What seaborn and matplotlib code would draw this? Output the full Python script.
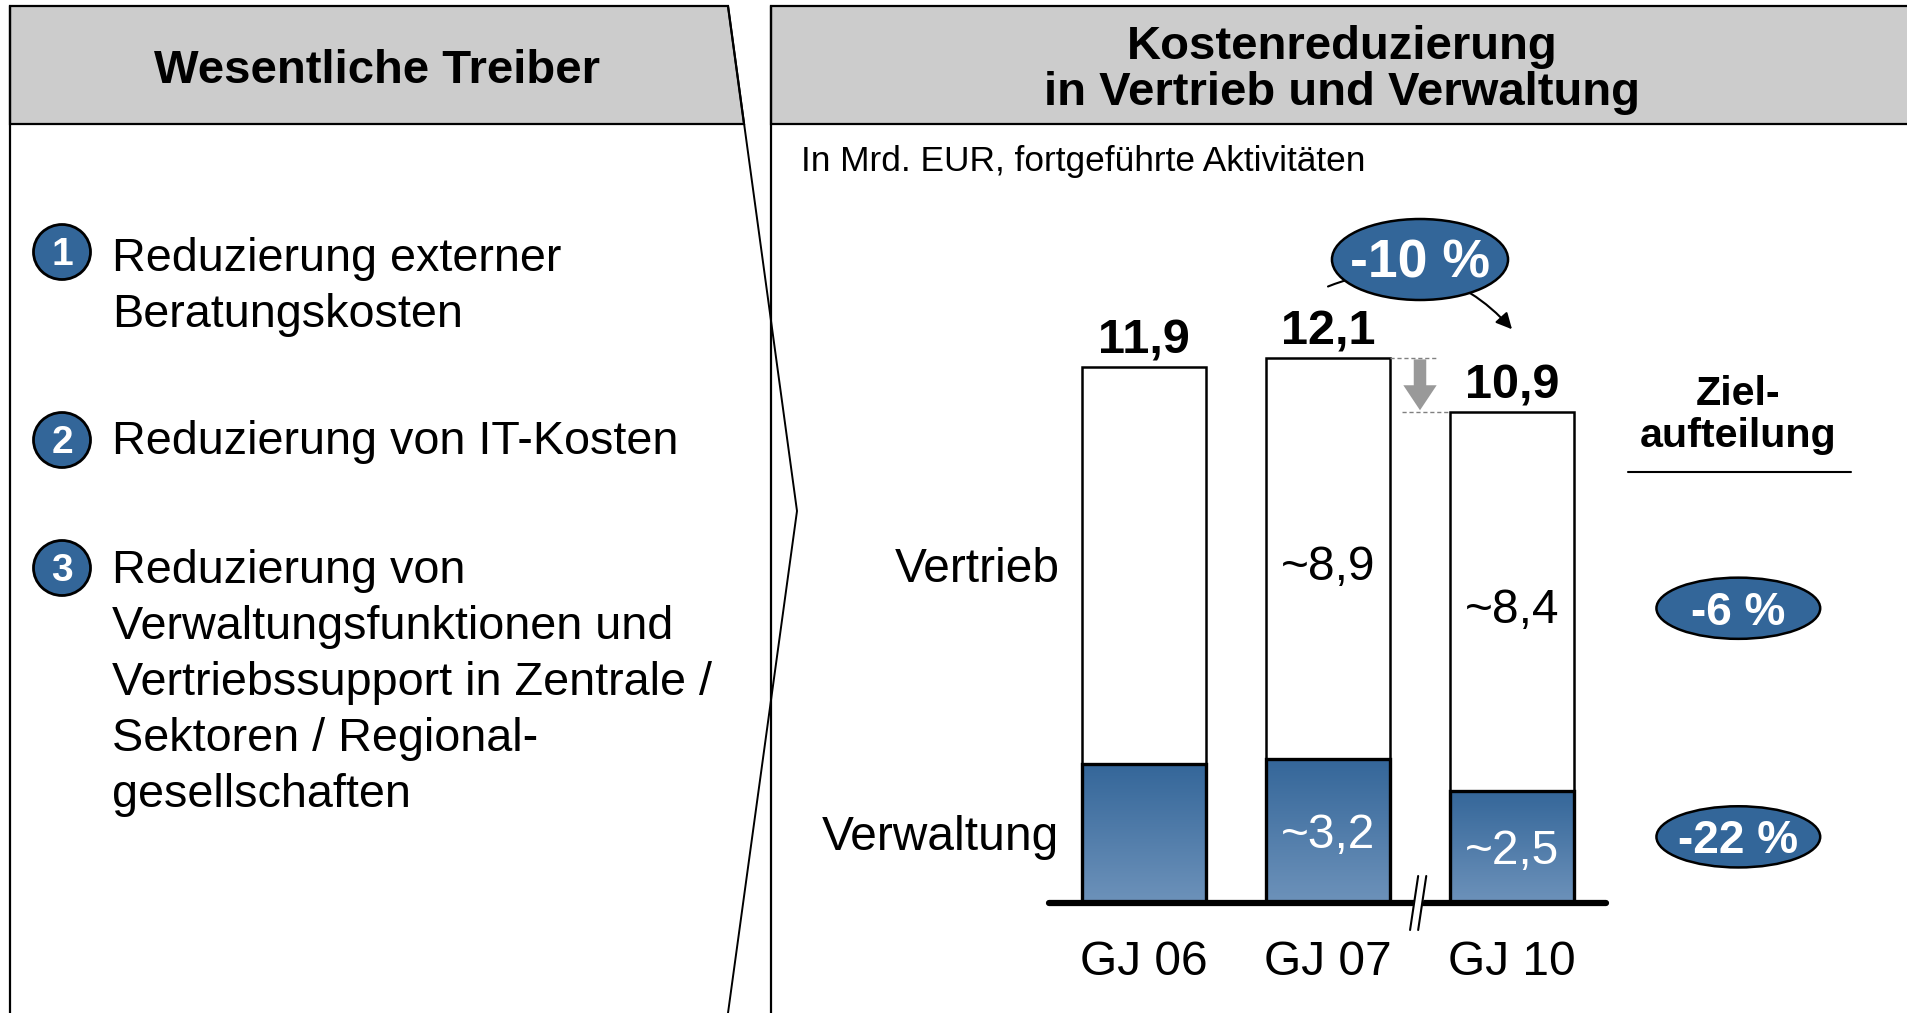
import numpy as np
import matplotlib.pyplot as plt
import matplotlib.patches as mpatches
from matplotlib.colors import LinearSegmentedColormap
import seaborn as sns

sns.set_theme(style='white')
plt.rcParams['font.family'] = ['Liberation Sans', 'DejaVu Sans']
plt.rcParams['text.color'] = 'black'

# Daten
jahre = ['GJ 06', 'GJ 07', 'GJ 10']
verwaltung = [3.1, 3.2, 2.5]
vertrieb = [8.8, 8.9, 8.4]
gesamt = [11.9, 12.1, 10.9]
gesamt_labels = ['11,9', '12,1', '10,9']
vertrieb_labels = ['', '~8,9', '~8,4']
verwaltung_labels = ['', '~3,2', '~2,5']
zeilen = ['Vertrieb', 'Verwaltung']
ziel_labels = ['-6 %', '-22 %']
reduktion_label = '-10 %'
treiber = [
    ['Reduzierung externer', 'Beratungskosten'],
    ['Reduzierung von IT-Kosten'],
    ['Reduzierung von', 'Verwaltungsfunktionen und', 'Vertriebssupport in Zentrale /',
     'Sektoren / Regional-', 'gesellschaften'],
]

BLAU = '#336699'
GRAU = '#cccccc'
FS = 34.5
DY = -0.1  # kleine Korrektur für vertikale Textmitte

fig = plt.figure(figsize=(19.08, 10.13), dpi=100)

# Hintergrund / Rahmen (Pixelkoordinaten)
bg = fig.add_axes([0, 0, 1, 1])
bg.set_xlim(0, 1908)
bg.set_ylim(1013, 0)
bg.axis('off')

bg.add_patch(mpatches.Polygon([(10, 6), (728, 6), (744, 124), (10, 124)], closed=True,
                              facecolor=GRAU, edgecolor='black', lw=1.6))
bg.plot([10, 10], [6, 1013], color='black', lw=1.6)
bg.plot([728, 797, 728], [6, 511, 1013], color='black', lw=1.4)
bg.add_patch(mpatches.Rectangle((771, 6), 1150, 118, facecolor=GRAU, edgecolor='black', lw=1.6))
bg.plot([771, 771], [6, 1013], color='black', lw=1.6)

bg.text(377, 71, 'Wesentliche Treiber', ha='center', va='center', fontsize=34, fontweight='bold')
bg.text(1342, 47, 'Kostenreduzierung', ha='center', va='center', fontsize=34, fontweight='bold')
bg.text(1342, 93, 'in Vertrieb und Verwaltung', ha='center', va='center', fontsize=34,
        fontweight='bold')
bg.text(801, 161, 'In Mrd. EUR, fortgeführte Aktivitäten', ha='left', va='center', fontsize=25.4)

# Treiber-Liste
kreis_y = [252, 440, 568]
text_y = [259, 442, 571]
for i, zeilen_txt in enumerate(treiber):
    bg.add_patch(mpatches.Ellipse((62, kreis_y[i]), 57, 55, facecolor=BLAU, edgecolor='black', lw=2))
    bg.text(62, kreis_y[i] + 3, str(i + 1), ha='center', va='center', color='white',
            fontsize=28, fontweight='bold')
    for j, z in enumerate(zeilen_txt):
        bg.text(112, text_y[i] + j * 56, z, ha='left', va='center', fontsize=33.7)

# Balkendiagramm
ax = fig.add_axes([1052 / 1908, 110 / 1013, 552 / 1908, 585 / 1013])
ax.patch.set_alpha(0)

sns.barplot(x=jahre, y=gesamt, color='white', edgecolor='black', linewidth=1.8,
            width=0.67, saturation=1, ax=ax)
sns.barplot(x=jahre, y=verwaltung, color=BLAU, edgecolor='black', linewidth=2.4,
            width=0.67, saturation=1, ax=ax)

# Verlauf in den Verwaltungsbalken
cmap = LinearSegmentedColormap.from_list('verlauf', ['#6d92ba', '#346699'])
grad = np.linspace(0, 1, 256).reshape(-1, 1)
for p in ax.patches[len(jahre):]:
    x0, w, h = p.get_x(), p.get_width(), p.get_height()
    p.set_facecolor('none')
    p.set_zorder(3)
    im = ax.imshow(grad, extent=[x0, x0 + w, 0, h], origin='lower', cmap=cmap,
                   aspect='auto', zorder=2)
    im.set_clip_path(p)

ax.set_xlim(-0.5, 2.5)
ax.set_ylim(0, 13)
ax.set_xlabel('')
ax.set_ylabel('')
ax.set_yticks([])
ax.set_xticks([])
for s in ax.spines.values():
    s.set_visible(False)

# Grundlinie mit Achsenbruch
ax.plot([-0.515, 2.51], [0, 0], color='black', lw=4.5, solid_capstyle='round',
        clip_on=False, zorder=5)
bx = 1.49
ax.add_patch(mpatches.Polygon([(bx - 0.045, -0.35), (bx + 0.005, -0.35), (bx + 0.045, 0.35),
                               (bx - 0.005, 0.35)],
                              closed=True, facecolor='white', edgecolor='none', zorder=6, clip_on=False))
for dx in (-0.022, 0.022):
    ax.plot([bx + dx - 0.022, bx + dx + 0.022], [-0.6, 0.6], color='black', lw=1.5,
            clip_on=False, zorder=7)

for i, jahr in enumerate(jahre):
    ax.text(i, -1.22 + DY, jahr, ha='center', va='center', fontsize=FS, clip_on=False)
    ax.text(i, gesamt[i] + 0.68 + DY, gesamt_labels[i], ha='center', va='center',
            fontsize=35, fontweight='bold', clip_on=False)
    if vertrieb_labels[i]:
        ax.text(i, verwaltung[i] + vertrieb[i] / 2 - 0.2, vertrieb_labels[i], ha='center',
                va='center', fontsize=FS, zorder=8)
    if verwaltung_labels[i]:
        ax.text(i, verwaltung[i] / 2 + DY, verwaltung_labels[i], ha='center', va='center',
                fontsize=FS, color='white', zorder=8)

# Zeilenbeschriftung
ax.text(-0.46, verwaltung[0] + vertrieb[0] / 2 + DY, zeilen[0], ha='right', va='center',
        fontsize=FS, clip_on=False)
ax.text(-0.46, verwaltung[0] / 2 + DY, zeilen[1], ha='right', va='center', fontsize=FS,
        clip_on=False)

# Rückgang GJ 07 -> GJ 10
ax.plot([1.335, 1.6], [gesamt[1], gesamt[1]], ls=(0, (3, 2)), color='#808080', lw=1, zorder=4)
ax.plot([1.4, 1.665], [gesamt[2], gesamt[2]], ls=(0, (3, 2)), color='#808080', lw=1, zorder=4)
ax.annotate('', xy=(1.5, gesamt[2] + 0.05), xytext=(1.5, gesamt[1] - 0.02),
            arrowprops=dict(arrowstyle='simple,head_length=0.9,head_width=1.2,tail_width=0.45',
                            fc='#999999', ec='none', mutation_scale=20, shrinkA=0, shrinkB=0))
ax.annotate('', xy=(2.0, 12.75), xytext=(1.0, 13.7),
            arrowprops=dict(arrowstyle='-|>,head_length=0.8,head_width=0.4', color='black',
                            lw=1.5, connectionstyle='arc3,rad=-0.35', shrinkA=0, shrinkB=0),
            annotation_clip=False)
ax.add_patch(mpatches.Ellipse((1.5, 14.3), 0.957, 1.8, facecolor=BLAU, edgecolor='black',
                              lw=1.8, clip_on=False, zorder=9))
ax.text(1.5, 14.3 + DY, reduktion_label, ha='center', va='center', color='white', fontsize=38.5,
        fontweight='bold', zorder=10, clip_on=False)

# Zielaufteilung
zx = 3.23
ax.text(zx, 11.4 + DY, 'Ziel-', ha='center', va='center', fontsize=29.7, fontweight='bold',
        clip_on=False)
ax.text(zx, 10.47 + DY, 'aufteilung', ha='center', va='center', fontsize=29.7, fontweight='bold',
        clip_on=False)
ax.plot([2.63, 3.84], [9.58, 9.58], color='black', lw=1.5, clip_on=False)
for lbl, y in zip(ziel_labels, [6.55, 1.47]):
    ax.add_patch(mpatches.Ellipse((zx, y), 0.89, 1.36, facecolor=BLAU, edgecolor='black',
                                  lw=1.8, clip_on=False, zorder=9))
    ax.text(zx, y + DY, lbl, ha='center', va='center', color='white', fontsize=33,
            fontweight='bold', zorder=10, clip_on=False)

fig.savefig('out.png', dpi=100)
